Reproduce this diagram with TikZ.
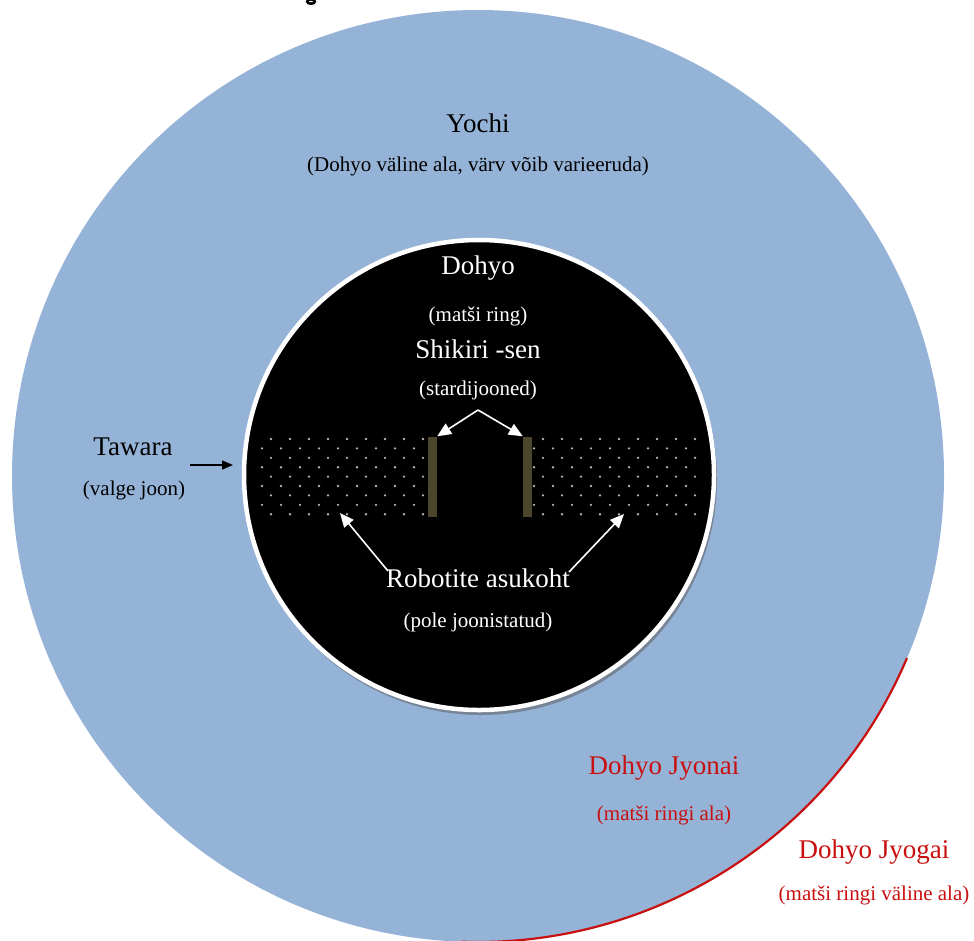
\documentclass[tikz,border=0pt]{standalone}
\usepackage{fontspec}
\setmainfont{Liberation Serif}
\usetikzlibrary{arrows.meta}
\definecolor{yochiblue}{RGB}{149,179,215}
\definecolor{redline}{RGB}{200,16,16}
\definecolor{barcol}{RGB}{76,70,44}
\definecolor{dotcol}{RGB}{180,180,180}
\definecolor{shadowcol}{RGB}{118,132,150}
\begin{document}
\begin{tikzpicture}[x=1pt,y=-1pt,
  headtxt/.style={inner sep=0pt,font=\fontsize{27}{32}\selectfont},
  subtxt/.style={inner sep=0pt,font=\fontsize{21}{25}\selectfont},
  whitearrow/.style={draw=white,line width=1.6pt,-{Triangle[length=14pt,width=12pt]}},
  blackarrow/.style={draw=black,line width=1.5pt,-{Triangle[length=11pt,width=9pt]}},
  barbox/.style={fill=barcol,draw=none,minimum width=9pt,minimum height=80pt,inner sep=0pt},
  dotarea/.style={draw=none,minimum width=170pt,minimum height=82pt,inner sep=0pt}]
\useasboundingbox (0,0) rectangle (974,940);
\begin{scope}
\clip (0,0) rectangle (974,940);
% outer area
\fill[yochiblue] (478,476) circle[radius=466];
\draw[redline,line width=2.2pt] (478,476) ++(23:466) arc[start angle=23,end angle=92,radius=466];
% shadow and dohyo
\fill[shadowcol] (481,479) circle[radius=236];
\fill[black] (479,475) circle[radius=235];
\draw[white,line width=4.5pt] (479,475) circle[radius=235];
% cut-off fragment of a letter at the top edge
\draw[black,line width=2.6pt] (311,1.5) ellipse[x radius=3.8,y radius=2.2];
\end{scope}
% robot areas (dotted)
\node[dotarea] (leftarea) at (342,476) {};
\node[dotarea] (rightarea) at (615,476) {};
\foreach \r in {0,...,8}{
  \pgfmathsetmacro{\xa}{mod(\r,2)==0 ? 271 : 262}
  \pgfmathsetmacro{\xb}{mod(\r,2)==0 ? 543 : 534}
  \foreach \k in {0,...,8}{
    \fill[dotcol] (\xa+19*\k,439+9.4*\r) circle[radius=1.3];
    \fill[dotcol] (\xb+19*\k,439+9.4*\r) circle[radius=1.3];
  }
}
% shikiri-sen bars
\node[barbox] (leftbar) at (432.5,476.5) {};
\node[barbox] (rightbar) at (527.5,476.5) {};
% texts
\node[headtxt] (yochi) at (478,123) {Yochi};
\node[subtxt] (yochisub) at (478,166) {(Dohyo väline ala, värv võib varieeruda)};
\node[headtxt,text=white] (dohyo) at (478,268) {Dohyo};
\node[subtxt,text=white] (dohyosub) at (478,316) {(matši ring)};
\node[headtxt,text=white] (shikiri) at (478,349) {Shikiri -sen};
\node[subtxt,text=white] (shikirisub) at (478,390) {(stardijooned)};
\node[headtxt,text=white] (robot) at (478,578) {Robotite asukoht};
\node[subtxt,text=white] (robotsub) at (478,622) {(pole joonistatud)};
\node[headtxt] (tawara) at (133,447) {Tawara};
\node[subtxt] (tawarasub) at (134,490) {(valge joon)};
\node[headtxt,text=redline] (jyonai) at (664,768) {Dohyo Jyonai};
\node[subtxt,text=redline] (jyonaisub) at (664,815) {(matši ringi ala)};
\node[headtxt,text=redline] (jyogai) at (874,852) {Dohyo Jyogai};
\node[subtxt,text=redline] (jyogaisub) at (874,895) {(matši ringi väline ala)};
% arrows
\coordinate (apex) at (478,410);
\draw[whitearrow] (apex) -- (leftbar.north east);
\draw[whitearrow] (apex) -- (rightbar.north west);
\coordinate (robL) at (388,571);
\coordinate (robR) at (569,572);
\coordinate (tipL) at (340,513);
\coordinate (tipR) at (624,514);
\draw[whitearrow] (robL) -- (tipL);
\draw[whitearrow] (robR) -- (tipR);
\coordinate (tawstart) at (190,465);
\coordinate (tawend) at (233,465);
\draw[blackarrow] (tawstart) -- (tawend);
\end{tikzpicture}
\end{document}
